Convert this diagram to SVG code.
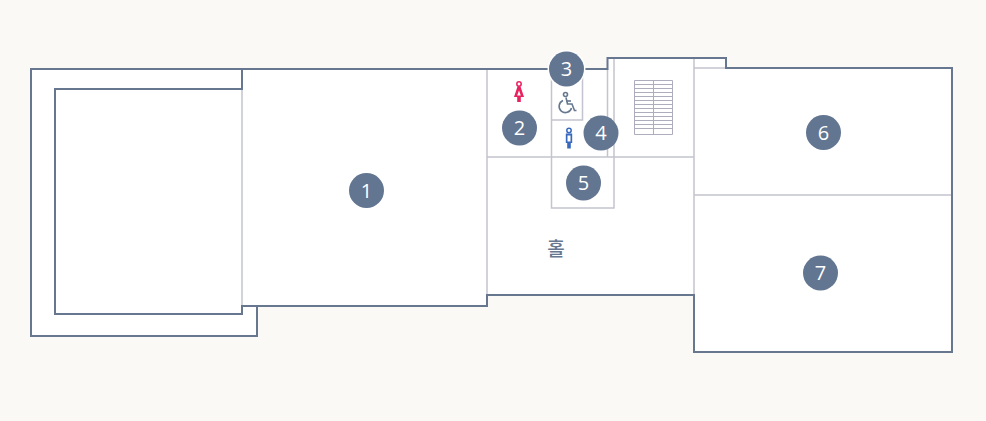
<svg xmlns="http://www.w3.org/2000/svg" width="986" height="421" viewBox="0 0 986 421">
<style>
.o{fill:none;stroke:#66778f;stroke-width:2}
.i{fill:none;stroke:#c4c4d0;stroke-width:1.500}
.s{fill:none;stroke:#adadbd;stroke-width:1}
circle.b{fill:#627591}
.n{font-family:"Open Sans","Noto Sans",sans-serif;font-size:20px;fill:#fff;text-anchor:middle}
</style>
<rect width="986" height="421" fill="#fbf9f6"/>
<path id="floor" d="M31 69.500H607.500V58.500H726V68.500H952V352H694V295H487V306H257V336H31Z" fill="#fff"/>
<g id="connectors">
<path class="i" d="M242 89V306M487 69V295M694 58V295M694 195H952M487 157H694M551.500 69V208H614V58M551.500 120H582.500V69M607.500 69V157M694 68H726"/>
<path class="s" d="M634.500 80.500H672.500V134.500H634.500ZM653.500 80.500V134.500M634.500 84.500H672.500M634.500 88.500H672.500M634.500 92.500H672.500M634.500 96.500H672.500M634.500 100.500H672.500M634.500 104.500H672.500M634.500 108.500H672.500M634.500 112.500H672.500M634.500 116.500H672.500M634.500 120.500H672.500M634.500 124.500H672.500M634.500 128.500H672.500"/>
<path class="o" d="M31 69H607.500V58H726V68H952V352H694V295H487V306H257V336H31Z"/>
<path class="o" d="M242 69V89H55V314H242V306H257"/>
</g>
<g id="icon-women" fill="#e8215f">
<circle cx="519" cy="84" r="2.200" fill="none" stroke="#e8215f" stroke-width="1.500"/>
<path d="M517.500 86.500H520.500L524 97H520.800V102H517.200V97H514ZM519 90.500L517.200 95.500H520.800Z" fill-rule="evenodd"/>
</g>
<g id="icon-men">
<circle cx="569" cy="130.500" r="2.200" fill="none" stroke="#3869bd" stroke-width="1.500"/>
<path d="M565.800 133.500H572.200V143H570.800V148.500H567.200V143H565.800ZM567.500 135.500V141.500H570.500V135.500Z" fill="#3869bd" fill-rule="evenodd"/>
</g>
<g id="icon-accessible" fill="none" stroke="#66778f" stroke-width="1.600">
<circle cx="565.500" cy="94.500" r="2"/>
<path d="M566 97.500L567.500 104H572L574.500 110.500H576.500"/>
<path d="M566.500 101H571"/>
<path d="M563 100.500A6.300 6.300 0 1 0 571.500 108"/>
</g>
<g id="node-1"><circle class="b" cx="366.500" cy="190.500" r="17.500"/><text class="n" x="366.500" y="197.500">1</text></g>
<g id="node-2"><circle class="b" cx="519.500" cy="128" r="17.500"/><text class="n" x="519.500" y="135">2</text></g>
<g id="node-3"><circle cx="566.500" cy="69" r="19" fill="#fff"/><circle class="b" cx="566.500" cy="69" r="17.500"/><text class="n" x="566.500" y="76">3</text></g>
<g id="node-4"><circle class="b" cx="601" cy="133" r="17.500"/><text class="n" x="601" y="140">4</text></g>
<g id="node-5"><circle class="b" cx="583.500" cy="183" r="17.500"/><text class="n" x="583.500" y="190">5</text></g>
<g id="node-6"><circle class="b" cx="823.500" cy="132.500" r="17.500"/><text class="n" x="823.500" y="139.500">6</text></g>
<g id="node-7"><circle class="b" cx="820.500" cy="273" r="17.500"/><text class="n" x="820.500" y="280">7</text></g>
<text id="hall" x="556" y="256" font-family="'Noto Sans CJK KR',sans-serif" font-size="19" font-weight="500" fill="#66778f" text-anchor="middle">홀</text>
</svg>
